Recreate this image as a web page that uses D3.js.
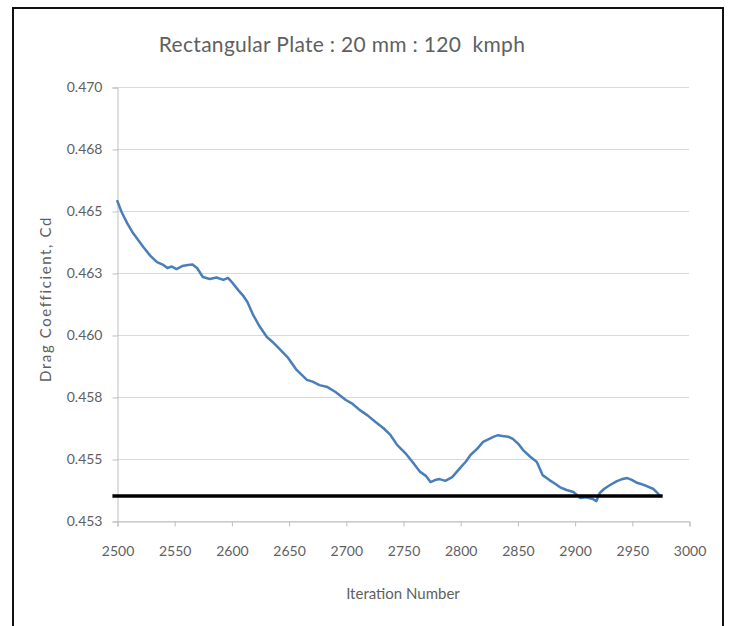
<!DOCTYPE html>
<html>
<head>
<meta charset="utf-8">
<script src="https://cdn.jsdelivr.net/npm/d3@7"></script>
<style>
  body { margin: 0; background: #fff; }
</style>
</head>
<body>
<script>
'use strict';

// iteration numbers
const iterations = [2500, 2504, 2509, 2514, 2519, 2523, 2529, 2535, 2540, 2544, 2548, 2552, 2557, 2562, 2566,
  2570, 2575, 2581, 2587, 2593, 2597, 2601, 2606, 2610, 2614, 2619, 2625, 2631, 2636, 2642, 2649, 2657,
  2666, 2671, 2677, 2684, 2691, 2700, 2706, 2712, 2719, 2726, 2733, 2739, 2745, 2752, 2759, 2765, 2770,
  2774, 2778, 2782, 2787, 2793, 2800, 2805, 2809, 2815, 2820, 2825, 2829, 2833, 2837, 2842, 2846, 2851,
  2855, 2861, 2867, 2872, 2878, 2883, 2887, 2893, 2899, 2905, 2910, 2916, 2919, 2922, 2926, 2931, 2937,
  2941, 2946, 2950, 2955, 2959, 2963, 2969, 2973, 2975];

// drag coefficient values
const dragCd = [0.46544, 0.46496, 0.46450, 0.46411, 0.46380, 0.46355, 0.46320, 0.46294, 0.46284, 0.46270,
  0.46276, 0.46266, 0.46278, 0.46282, 0.46284, 0.46270, 0.46234, 0.46226, 0.46232, 0.46222, 0.46230, 0.46210,
  0.46181, 0.46160, 0.46133, 0.46081, 0.46032, 0.45992, 0.45972, 0.45944, 0.45911, 0.45859, 0.45819, 0.45812,
  0.45798, 0.45790, 0.45770, 0.45738, 0.45722, 0.45698, 0.45676, 0.45649, 0.45624, 0.45597, 0.45556, 0.45524,
  0.45484, 0.45448, 0.45432, 0.45407, 0.45415, 0.45419, 0.45412, 0.45427, 0.45464, 0.45490, 0.45516, 0.45542,
  0.45569, 0.45580, 0.45589, 0.45596, 0.45593, 0.45590, 0.45581, 0.45560, 0.45536, 0.45510, 0.45488, 0.45435,
  0.45415, 0.45400, 0.45387, 0.45375, 0.45367, 0.45343, 0.45346, 0.45339, 0.45330, 0.45363, 0.45380, 0.45395,
  0.45411, 0.45418, 0.45423, 0.45416, 0.45403, 0.45398, 0.45391, 0.45379, 0.45360, 0.45347];

// converged reference line
const refIterations = [2496, 2977];
const refCd = [0.45351, 0.45351];

const xTicks = [2500, 2550, 2600, 2650, 2700, 2750, 2800, 2850, 2900, 2950, 3000];
const yTicks = [0.4525, 0.4550, 0.4575, 0.4600, 0.4625, 0.4650, 0.4675, 0.4700];

(function() {

  let svgContainer = "";
  let xScale = "";
  let yScale = "";
  const textColor = "#5f5f5f";
  const font = "Lato, 'Open Sans', sans-serif";

  window.onload = function() {
    svgContainer = d3.select('body')
      .append('svg')
      .attr('width', 729)
      .attr('height', 626)
      .style('font-family', font);

    // outer frame
    svgContainer.append('rect')
      .attr('x', 13)
      .attr('y', 8)
      .attr('width', 710)
      .attr('height', 640)
      .attr('fill', 'none')
      .attr('stroke', '#111')
      .attr('stroke-width', 2);

    drawAxes();
    plotData();
    makeLabels();
  }

  // gridlines, axes and tick labels
  function drawAxes() {
    xScale = d3.scaleLinear()
      .domain([2500, 3000])
      .range([117, 689]);

    yScale = d3.scaleLinear()
      .domain([0.4525, 0.4700])
      .range([521, 87]);

    // horizontal gridlines
    svgContainer.append('g')
      .selectAll('line')
      .data(yTicks)
      .enter()
      .append('line')
        .attr('x1', 117)
        .attr('x2', 689)
        .attr('y1', d => yScale(d) + 0.5)
        .attr('y2', d => yScale(d) + 0.5)
        .attr('stroke', '#d9d9d9');

    let xAxis = d3.axisBottom(xScale)
      .tickValues(xTicks)
      .tickSize(5)
      .tickPadding(20)
      .tickFormat(d3.format('d'));
    let gx = svgContainer.append('g')
      .attr('transform', 'translate(0.5, 521.5)')
      .call(xAxis);

    let yAxis = d3.axisLeft(yScale)
      .tickValues(yTicks)
      .tickSize(5)
      .tickPadding(10)
      .tickFormat(d => (Math.round(d * 1000 + 1e-9) / 1000).toFixed(3));
    let gy = svgContainer.append('g')
      .attr('transform', 'translate(117.5, 0.5)')
      .call(yAxis);

    [gx, gy].forEach(g => {
      g.select('.domain').attr('stroke', '#bfbfbf');
      g.selectAll('.tick line').attr('stroke', '#bfbfbf');
      g.selectAll('.tick text')
        .attr('fill', textColor)
        .style('font-size', '14px')
        .style('font-family', font);
    });
  }

  // plot the drag coefficient curve and reference line
  function plotData() {
    let line = d3.line()
      .x(d => xScale(d[0]))
      .y(d => yScale(d[1]));

    let points = iterations.map((it, i) => [it, dragCd[i]]);
    svgContainer.append('path')
      .datum(points)
      .attr('d', line)
      .attr('fill', 'none')
      .attr('stroke', '#4a7ebb')
      .attr('stroke-width', 2.5)
      .attr('stroke-linejoin', 'round');

    let ref = refIterations.map((it, i) => [it, refCd[i]]);
    svgContainer.append('path')
      .datum(ref)
      .attr('d', line)
      .attr('fill', 'none')
      .attr('stroke', '#000')
      .attr('stroke-width', 3.5);
  }

  // title and axis labels
  function makeLabels() {
    svgContainer.append('text')
      .attr('x', 342)
      .attr('y', 52)
      .attr('text-anchor', 'middle')
      .attr('fill', textColor)
      .style('font-size', '21px')
      .style('letter-spacing', '0.3px')
      .style('white-space', 'pre')
      .text('Rectangular Plate : 20 mm : 120  kmph');

    svgContainer.append('text')
      .attr('x', 403)
      .attr('y', 599)
      .attr('text-anchor', 'middle')
      .attr('fill', textColor)
      .style('font-size', '15px')
      .text('Iteration Number');

    svgContainer.append('text')
      .attr('transform', 'translate(51, 299)rotate(-90)')
      .attr('text-anchor', 'middle')
      .attr('fill', textColor)
      .style('font-size', '15px')
      .style('letter-spacing', '1.6px')
      .text('Drag Coefficient, Cd');
  }

})();
</script>
</body>
</html>
